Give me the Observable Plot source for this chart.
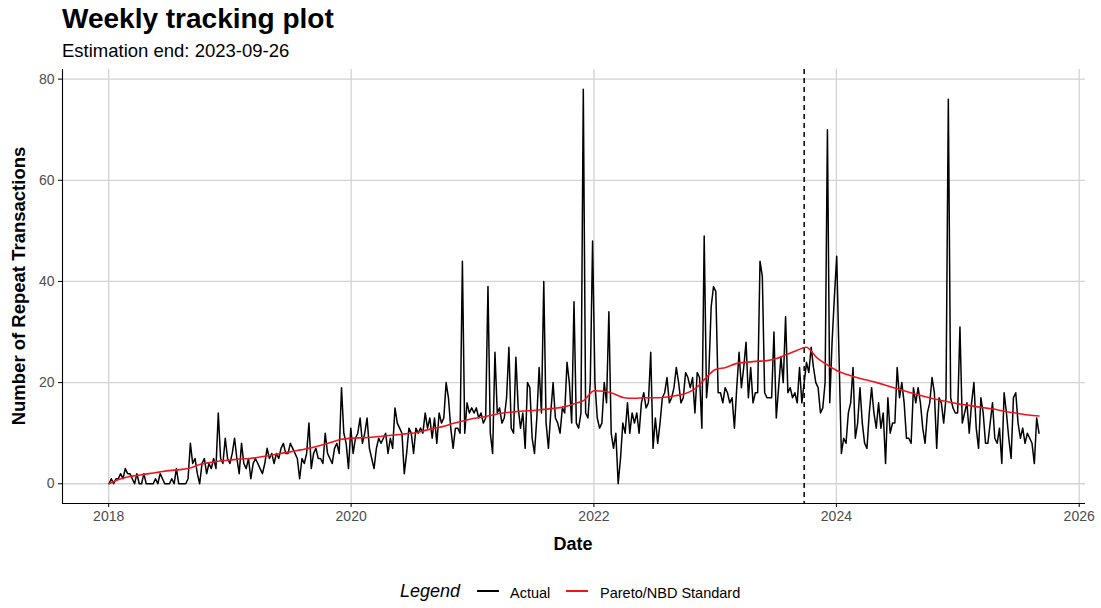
<!DOCTYPE html>
<html>
<head>
<meta charset="utf-8">
<script src="https://cdn.jsdelivr.net/npm/d3@7"></script>
<script src="https://cdn.jsdelivr.net/npm/@observablehq/plot@0.6"></script>
<style>
  body { margin: 0; background: #fff; }
  #wrap { position: relative; width: 1101px; height: 608px; overflow: hidden; background: #fff;
          font-family: "Liberation Sans", Arial, Helvetica, sans-serif; color: #000; }
  #title { position: absolute; left: 62px; top: 5px; font-size: 28px; font-weight: bold; line-height: 28px; white-space: nowrap; }
  #subtitle { position: absolute; left: 62px; top: 41px; font-size: 18.5px; line-height: 19px; white-space: nowrap; }
  #chart { position: absolute; left: 0; top: 60px; }
  #ylab { position: absolute; left: 18px; top: 286px; font-size: 18.5px; font-weight: bold; white-space: nowrap;
          transform: translate(-50%, -50%) rotate(-90deg); line-height: 19px; }
  #xlab { position: absolute; left: 573px; top: 535px; font-size: 18px; font-weight: bold; transform: translateX(-50%); line-height: 18px; }
  .lg { position: absolute; top: 582px; line-height: 18px; white-space: nowrap; }
  .key { position: absolute; top: 590px; height: 2px; width: 22px; }
  svg text { font-family: "Liberation Sans", Arial, Helvetica, sans-serif; }
  g[aria-label="x-axis tick label"], g[aria-label="y-axis tick label"] { fill: #4d4d4d; }
</style>
</head>
<body>
<div id="wrap">
  <div id="title">Weekly tracking plot</div>
  <div id="subtitle">Estimation end: 2023-09-26</div>
  <div id="chart"></div>
  <div id="ylab">Number of Repeat Transactions</div>
  <div id="xlab">Date</div>
  <div class="lg" style="left:400px;font-size:18px;font-style:italic;">Legend</div>
  <div class="key" style="left:477px;background:#000;"></div>
  <div class="lg" style="left:510px;font-size:14.5px;top:584px;">Actual</div>
  <div class="key" style="left:566px;background:#f0141e;"></div>
  <div class="lg" style="left:600px;font-size:14.5px;top:584px;">Pareto/NBD Standard</div>
</div>
<script>
// Weekly actual repeat transactions, in 52-week blocks starting 2018-01-02
const actual2018 = [0,1,0,1,1,2,1,3,2,2,1,0,2,0,0,2,0,0,0,0,1,0,2,1,0,0,0,1,0,3,0,0,0,0,1,8,4,5,2,0,4,5,2,4,3,5,3,14,5,4,9,5];
const actual2019 = [4,6,9,5,2,8,4,3,5,1,4,5,4,3,2,4,7,5,6,4,6,5,7,8,6,6,8,7,6,5,1,5,4,6,12,3,6,7,5,5,4,10,6,5,4,7,8,6,19,10,8,3];
const actual2020 = [11,6,9,10,13,8,10,13,7,5,3,7,9,8,9,10,6,9,7,15,12,11,10,2,6,11,10,6,11,10,11,10,14,11,13,9,13,8,14,12,13,20,17,11,7,11,11,10,44,10,16,14];
const actual2021 = [15,14,15,13,14,12,13,39,10,6,26,14,15,12,13,17,27,11,10,25,15,11,14,7,20,19,9,6,13,23,14,40,12,7,14,20,13,12,10,15,14,24,20,12,36,12,11,14,78,14,13,20];
const actual2022 = [48,20,13,11,12,20,16,34,10,7,10,0,5,12,10,16,10,14,12,14,10,16,18,15,16,26,7,13,8,12,17,18,21,16,17,19,23,20,16,17,22,21,19,21,14,22,21,11,49,17,22,35];
const actual2023 = [39,38,18,18,16,19,18,16,17,11,19,26,19,23,28,17,23,16,18,18,44,41,18,17,17,17,30,13,19,25,20,33,18,19,17,18,16,23,16,20,24,22,27,23,20,19,14,15,20,70,16,28];
const actual2024 = [37,45,25,6,9,8,14,16,23,9,12,19,12,8,7,14,19,14,11,16,11,14,4,17,10,12,12,23,17,20,16,9,9,8,19,16,19,16,11,8,14,16,21,18,7,17,16,12,17,76,17,15,14];
const actual2025 = [14,31,12,14,16,10,16,20,11,7,17,14,8,8,12,16,9,8,11,4,18,14,9,5,17,18,12,9,11,8,10,9,8,4,13,10];

// Pareto/NBD Standard expected weekly repeat transactions, monthly from 2018-01-02
const pnbd2018 = [0,0.9,1.4,1.7,2.0,2.3,2.6,2.8,3.1,3.8,4.2,4.5];
const pnbd2019 = [4.7,4.9,5.0,5.3,5.6,6.0,6.3,6.7,7.1,7.6,8.2,8.8];
const pnbd2020 = [9.0,9.1,9.2,9.4,9.6,9.8,10.0,10.4,10.9,11.3,11.9,12.4];
const pnbd2021 = [12.9,13.2,13.6,14.0,14.2,14.4,14.5,14.7,14.9,15.2,15.8,16.5];
const pnbd2022 = [18.4,18.3,17.8,17.0,16.9,17.0,17.0,17.1,17.4,17.8,18.8,20.8];
const pnbd2023 = [22.6,23.0,23.7,24.0,24.2,24.3,24.7,25.5,26.3,27.0,25.0,23.6];
const pnbd2024 = [22.4,21.6,21.0,20.5,20.0,19.4,18.8,18.2,17.6,17.1,16.6,16.2];
const pnbd2025 = [15.8,15.5,15.2,14.9,14.6,14.2,13.9,13.6,13.4];

const xTickYears = [2018, 2020, 2022, 2024, 2026];
const yTicks = [0, 20, 40, 60, 80];
const estimationEnd = "2023-09-26";

const startMs = Date.UTC(2018, 0, 2);
const actualValues = [].concat(actual2018, actual2019, actual2020, actual2021, actual2022, actual2023, actual2024, actual2025);
const actual = actualValues.map((v, i) => ({date: new Date(startMs + i * 7 * 864e5), value: v}));
const pnbdValues = [].concat(pnbd2018, pnbd2019, pnbd2020, pnbd2021, pnbd2022, pnbd2023, pnbd2024, pnbd2025);
const pnbd = pnbdValues.map((v, k) => ({date: d3.utcMonth.offset(new Date(startMs), k), value: v}));

const xTicks = xTickYears.map(y => new Date(Date.UTC(y, 0, 1)));
const xDomain = [new Date(Date.UTC(2017, 7, 15)), new Date(Date.UTC(2026, 0, 20))];
const yDomain = [-3.9, 81.9];
const gridColor = "#d3d3d3";

const chart = Plot.plot({
  width: 1101,
  height: 500,
  marginLeft: 62,
  marginRight: 16,
  marginTop: 9,
  marginBottom: 57,
  style: {background: "white", fontFamily: "Liberation Sans, Arial, sans-serif"},
  x: {type: "utc", domain: xDomain},
  y: {domain: yDomain},
  marks: [
    Plot.gridX(xTicks, {stroke: gridColor, strokeOpacity: 1, strokeWidth: 1.3}),
    Plot.gridY(yTicks, {stroke: gridColor, strokeOpacity: 1, strokeWidth: 1.3}),
    Plot.ruleX([new Date(estimationEnd)], {stroke: "black", strokeWidth: 1.5, strokeDasharray: "5,4"}),
    Plot.line(actual, {x: "date", y: "value", stroke: "black", strokeWidth: 1.5}),
    Plot.line(pnbd, {x: "date", y: "value", stroke: "#f0141e", strokeWidth: 1.6, curve: "monotone-x"}),
    Plot.ruleX([xDomain[0]], {stroke: "black", strokeWidth: 1.1}),
    Plot.ruleY([yDomain[0]], {stroke: "black", strokeWidth: 1.1}),
    Plot.axisX(xTicks, {tickFormat: d => String(d.getUTCFullYear()), tickSize: 4, tickPadding: 4, label: null, fontSize: 14}),
    Plot.axisY(yTicks, {tickSize: 4, tickPadding: 4, label: null, fontSize: 14})
  ]
});
document.getElementById("chart").appendChild(chart);
</script>
</body>
</html>
